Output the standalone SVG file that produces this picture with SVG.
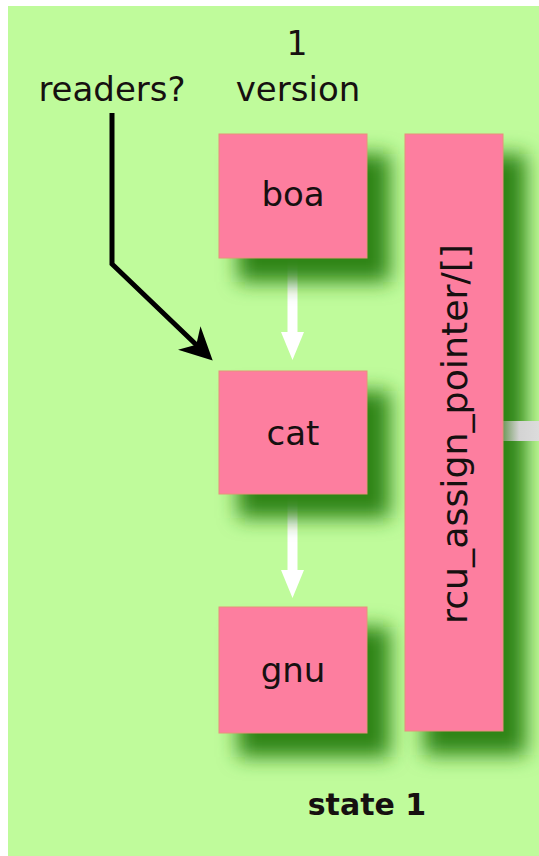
<svg xmlns="http://www.w3.org/2000/svg" width="539" height="856" viewBox="0 0 539 856">
  <defs>
    <filter id="soft" x="-40%" y="-40%" width="180%" height="180%">
      <feGaussianBlur stdDeviation="10"/>
    </filter>
    <linearGradient id="linkFade" x1="503" y1="0" x2="539" y2="0" gradientUnits="userSpaceOnUse">
      <stop offset="0" stop-color="#6f9a5c"/>
      <stop offset="0.45" stop-color="#d3d3d3"/>
      <stop offset="1" stop-color="#dcdcdc"/>
    </linearGradient>
    <marker id="blackHead" viewBox="0 0 10 10" refX="8" refY="5" markerWidth="6.5" markerHeight="6.5" orient="auto" markerUnits="strokeWidth">
      <path d="M0,0 L10,5 L0,10 L3,5 Z" fill="#000"/>
    </marker>
  </defs>
  <style>
    .label { font-family: "DejaVu Sans", "Liberation Sans", sans-serif; fill: #161010; }
    .box { fill: #fd7e9f; stroke: #e8907a; stroke-width: 1; }
    .shadow { fill: #2e8412; filter: url(#soft); }
    .white { fill: #ffffff; }
  </style>

  <!-- page background -->
  <rect x="0" y="0" width="539" height="856" fill="#ffffff"/>
  <rect x="8" y="6" width="531" height="850" fill="#bffb9b"/>

  <!-- heading texts -->
  <text class="label" x="297" y="55" font-size="33" text-anchor="middle">1</text>
  <text class="label" x="298" y="101" font-size="34" text-anchor="middle">version</text>
  <text class="label" x="112" y="101" font-size="34" text-anchor="middle">readers?</text>

  <!-- connectors -->
  <g id="connectors">
    <rect class="white" x="287.5" y="258" width="10" height="76"/>
    <polygon class="white" points="281,332 304,332 292.5,360"/>
    <rect class="white" x="287.5" y="494" width="10" height="78"/>
    <polygon class="white" points="281,570 304,570 292.5,598"/>
    <polyline points="112,113 112,264 208,356" fill="none" stroke="#000" stroke-width="5" stroke-linejoin="miter" marker-end="url(#blackHead)"/>
  </g>

  <!-- shadows below the boxes -->
  <g id="shadows">
    <rect class="shadow" x="238" y="154" width="152" height="128"/>
    <rect class="shadow" x="238" y="391" width="152" height="127"/>
    <rect class="shadow" x="238" y="627" width="152" height="130"/>
    <rect class="shadow" x="424" y="154" width="102" height="601"/>
  </g>

  <!-- link leaving the pointer column to the right -->
  <rect id="pointer-link" x="503" y="421" width="36" height="20" fill="url(#linkFade)"/>

  <g id="boa">
    <rect class="box" x="219" y="134" width="148" height="124"/>
    <text class="label" x="293" y="206" font-size="34" text-anchor="middle">boa</text>
  </g>

  <g id="cat">
    <rect class="box" x="219" y="371" width="148" height="123"/>
    <text class="label" x="293" y="445" font-size="34" text-anchor="middle">cat</text>
  </g>

  <g id="gnu">
    <rect class="box" x="219" y="607" width="148" height="126"/>
    <text class="label" x="293" y="682" font-size="34" text-anchor="middle">gnu</text>
  </g>

  <g id="rcu_assign_pointer">
    <rect class="box" x="405" y="134" width="98" height="597"/>
    <text class="label" transform="translate(467,434) rotate(-90)" x="0" y="0" font-size="35" text-anchor="middle" textLength="380" lengthAdjust="spacingAndGlyphs">rcu_assign_pointer/[]</text>
  </g>

  <text class="label" x="367" y="815" font-size="30" font-weight="bold" text-anchor="middle">state 1</text>
</svg>
